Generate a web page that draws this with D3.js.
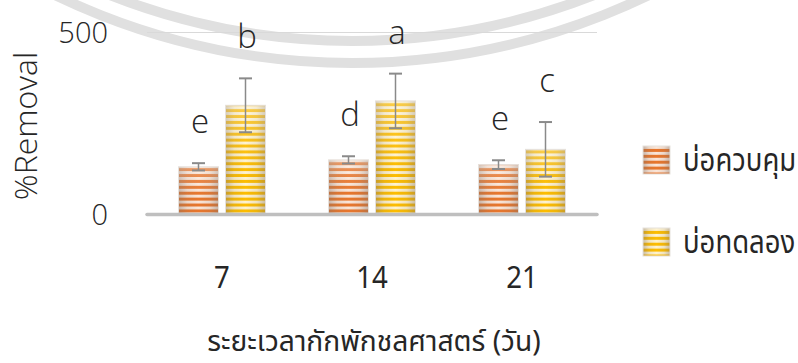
<!DOCTYPE html>
<html>
<head>
<meta charset="utf-8">
<script src="https://cdn.jsdelivr.net/npm/d3@7/dist/d3.min.js"></script>
<style>
  html, body { margin: 0; padding: 0; background: #fff; }
  svg { display: block; }
  .lat { font-family: "Open Sans", "Segoe UI", sans-serif; font-weight: 300; fill: #262626; }
  .thai { font-family: "Noto Sans Thai", "Noto Sans Thai Looped", "Leelawadee UI", Tahoma, "DejaVu Sans", sans-serif; fill: #262626; }
</style>
</head>
<body>
<svg id="chart" width="798" height="363"></svg>
<script>
// Retention time (days) and %Removal for control vs. experimental ponds
const days = ["7", "14", "21"];
const seriesNames = ["บ่อควบคุม", "บ่อทดลอง"];
const controlMean = [131, 150, 137];
const controlErr = [10, 10, 12];
const trialMean = [300, 312, 179];
const trialErr = [74, 75, 75];
const controlLetters = ["e", "d", "e"];
const trialLetters = ["b", "a", "c"];
const yTicks = [0, 500];
const yTitle = "%Removal";
const xTitle = "ระยะเวลากักพักชลศาสตร์ (วัน)";

const svg = d3.select("#chart");
const plot = { left: 147, right: 597, top: 32.5, bottom: 214.5 };

const rows = days.map((d, i) => ({
  day: d,
  values: [
    { s: 0, mean: controlMean[i], err: controlErr[i], letter: controlLetters[i] },
    { s: 1, mean: trialMean[i], err: trialErr[i], letter: trialLetters[i] }
  ]
}));

const x0 = d3.scaleBand().domain(days).range([plot.left, plot.right]).padding(0);
const x1 = d3.scaleBand().domain([0, 1]).range([0, x0.bandwidth()])
  .paddingInner(0.149).paddingOuter(0.67);
const y = d3.scaleLinear().domain([0, 500]).range([plot.bottom, plot.top]);

const defs = svg.append("defs");

// stripe patterns: dark/light horizontal bands
const palettes = [
  { dark: "#e8762c", light: "#fbe6d8" },
  { dark: "#fdbd00", light: "#fff3cf" }
];
palettes.forEach((p, i) => {
  const pat = defs.append("pattern")
    .attr("id", "stripe" + i)
    .attr("patternUnits", "userSpaceOnUse")
    .attr("width", 6).attr("height", 5.9);
  pat.append("rect").attr("width", 6).attr("height", 5.9).attr("fill", p.light);
  pat.append("rect").attr("y", 2.9).attr("width", 6).attr("height", 3).attr("fill", p.dark);
});

// cylinder-like shading across the bar width
const shade = defs.append("linearGradient").attr("id", "shade")
  .attr("x1", 0).attr("x2", 1).attr("y1", 0).attr("y2", 0);
[[0, 0.42], [0.22, 0.12], [0.5, 0], [0.78, 0.12], [1, 0.42]].forEach(([o, a]) =>
  shade.append("stop").attr("offset", o).attr("stop-color", "#7d6f66").attr("stop-opacity", a));

const gloss = defs.append("linearGradient").attr("id", "gloss")
  .attr("x1", 0).attr("x2", 0).attr("y1", 0).attr("y2", 1);
[[0, 0.28], [0.35, 0.08], [0.6, 0]].forEach(([o, a]) =>
  gloss.append("stop").attr("offset", o).attr("stop-color", "#ffffff").attr("stop-opacity", a));

// faint circular watermark bands behind the plot
const wm = svg.append("g").attr("fill", "none").attr("stroke", "#e0e0e0");
[661, 683].forEach(r => {
  wm.append("circle").attr("cx", 352).attr("cy", -620).attr("r", r).attr("stroke-width", 10);
});

// gridline at top tick
svg.append("line")
  .attr("x1", plot.left).attr("x2", plot.right)
  .attr("y1", y(500)).attr("y2", y(500))
  .attr("stroke", "#d9d9d9").attr("stroke-width", 1);

// y tick labels
svg.append("g").selectAll("text").data(yTicks).join("text")
  .attr("class", "lat")
  .attr("x", 108).attr("y", d => y(d))
  .attr("dy", "0.36em")
  .attr("text-anchor", "end")
  .attr("font-size", 29)
  .text(d => d);

// y axis title
svg.append("text")
  .attr("class", "lat")
  .attr("transform", "translate(37,126) rotate(-90)")
  .attr("text-anchor", "middle")
  .attr("font-size", 32)
  .text(yTitle);

// bars
const groups = svg.append("g").selectAll("g").data(rows).join("g")
  .attr("transform", d => `translate(${x0(d.day)},0)`);

const bars = groups.selectAll("g.bar").data(d => d.values).join("g").attr("class", "bar");
bars.append("rect")
  .attr("x", d => x1(d.s)).attr("width", x1.bandwidth())
  .attr("y", d => y(d.mean)).attr("height", d => y(0) - y(d.mean))
  .attr("fill", d => `url(#stripe${d.s})`);
bars.append("rect")
  .attr("x", d => x1(d.s)).attr("width", x1.bandwidth())
  .attr("y", d => y(d.mean)).attr("height", d => y(0) - y(d.mean))
  .attr("fill", "url(#shade)");
bars.append("rect")
  .attr("x", d => x1(d.s)).attr("width", x1.bandwidth())
  .attr("y", d => y(d.mean)).attr("height", d => y(0) - y(d.mean))
  .attr("fill", "url(#gloss)")
  .attr("stroke", "#e6e1dc").attr("stroke-width", 1);

// error bars
const eb = bars.append("g").attr("stroke", "#8a8a8a");
eb.append("line")
  .attr("x1", d => x1(d.s) + x1.bandwidth() / 2).attr("x2", d => x1(d.s) + x1.bandwidth() / 2)
  .attr("y1", d => y(d.mean + d.err)).attr("y2", d => y(d.mean - d.err))
  .attr("stroke-width", 1.5);
eb.selectAll("line.cap").data(d => [d.mean + d.err, d.mean - d.err].map(v => ({ v, d }))).join("line")
  .attr("class", "cap")
  .attr("x1", o => x1(o.d.s) + x1.bandwidth() / 2 - 6.5)
  .attr("x2", o => x1(o.d.s) + x1.bandwidth() / 2 + 6.5)
  .attr("y1", o => y(o.v)).attr("y2", o => y(o.v))
  .attr("stroke-width", 2);

// significance letters
bars.append("text")
  .attr("class", "lat")
  .attr("x", d => x1(d.s) + x1.bandwidth() / 2 + 1.5)
  .attr("y", d => y(d.mean + d.err) - 30)
  .attr("text-anchor", "middle")
  .attr("font-size", 33)
  .text(d => d.letter);

// baseline
svg.append("line")
  .attr("x1", plot.left).attr("x2", plot.right)
  .attr("y1", y(0)).attr("y2", y(0))
  .attr("stroke", "#bfbfbf").attr("stroke-width", 3.5)
  .attr("stroke-linecap", "round");

// x tick labels (slightly narrowed Thai face)
svg.append("g").selectAll("text").data(days).join("text")
  .attr("class", "thai")
  .attr("transform", d => `translate(${x0(d) + x0.bandwidth() / 2},288) scale(0.92,1)`)
  .attr("text-anchor", "middle")
  .attr("font-size", 30)
  .text(d => d);

// x axis title
svg.append("text")
  .attr("class", "thai")
  .attr("transform", "translate(374,351) scale(0.99,1)")
  .attr("text-anchor", "middle")
  .attr("font-size", 28.5)
  .text(xTitle);

// legend
const legend = svg.append("g").selectAll("g").data(seriesNames).join("g")
  .attr("transform", (d, i) => `translate(643,${146 + i * 82})`);
legend.append("rect").attr("width", 27).attr("height", 28).attr("fill", (d, i) => `url(#stripe${i})`);
legend.append("rect").attr("width", 27).attr("height", 28).attr("fill", "url(#shade)")
  .attr("stroke", "#e6e1dc").attr("stroke-width", 1);
legend.append("text")
  .attr("class", "thai")
  .attr("transform", "translate(40,14) scale(0.86,1)")
  .attr("dy", "0.35em")
  .attr("font-size", 32)
  .text(d => d);
</script>
</body>
</html>
